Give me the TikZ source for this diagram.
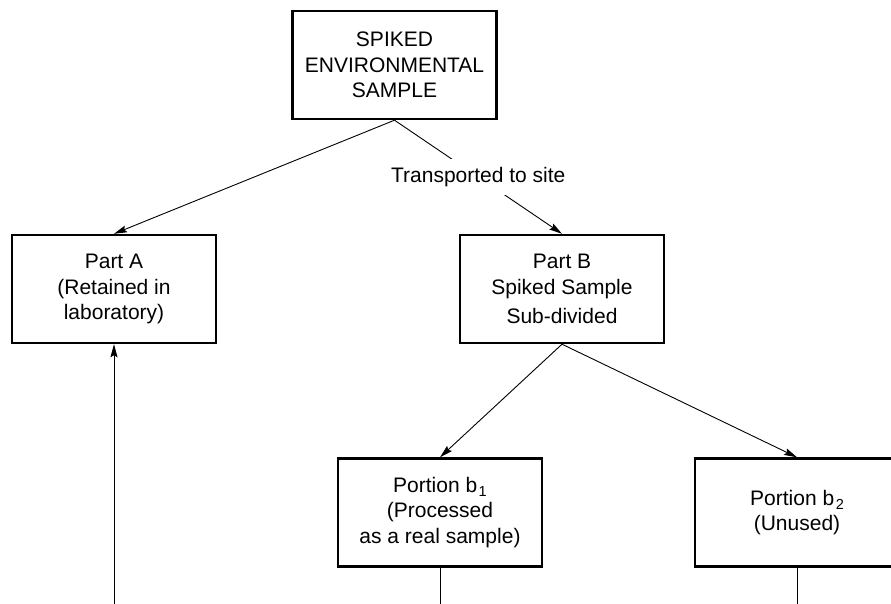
\documentclass[tikz,border=0pt]{standalone}
\usepackage{fontspec}
\setmainfont{Liberation Sans}
\usetikzlibrary{arrows.meta}
\newcommand{\portionidx}[1]{\kern1.5pt\raisebox{-0.4ex}{\fontsize{14.5}{14.5}\selectfont #1}}
\begin{document}
\begin{tikzpicture}[x=1pt,y=-1pt,
    box/.style={draw, line width=2.4pt, minimum width=204pt, minimum height=108pt,
      align=center, font={\fontsize{21}{25.5}\selectfont}},
    link/.style={line width=0.9pt, -{Stealth[length=13pt,width=7pt,inset=2pt]}},
    plain/.style={line width=0.9pt}]
  \clip (0,0) rectangle (891,604);
  \node[box] (spiked) at (394.5,65) {SPIKED\\ENVIRONMENTAL\\SAMPLE};
  \node[box] (partA) at (114,289) {Part A\\(Retained in\\laboratory)};
  \node[box] (partB) at (562,289) {Part B\\Spiked Sample\\[4pt]Sub-divided};
  \node[box] (b1) at (440,512.5) {Portion b\portionidx{1}\\(Processed\\as a real sample)};
  \node[box] (b2) at (797,512.5) {Portion b\portionidx{2}\\(Unused)};
  \coordinate (feedA) at (114,604);
  \coordinate (outB1) at (b1.south |- feedA);
  \coordinate (outB2) at (b2.south |- feedA);
  \draw[link] (spiked.south) -- (partA.north);
  \draw[link] (spiked.south) -- node[fill=white, inner xsep=2pt, inner ysep=8.5pt,
      font={\fontsize{21}{25}\selectfont}] (transport) {Transported to site} (partB.north);
  \draw[link] (partB.south) -- (b1.north);
  \draw[link] (partB.south) -- (b2.north);
  \draw[link] (feedA) -- (partA.south);
  \draw[plain] (b1.south) -- (outB1);
  \draw[plain] (b2.south) -- (outB2);
\end{tikzpicture}
\end{document}
